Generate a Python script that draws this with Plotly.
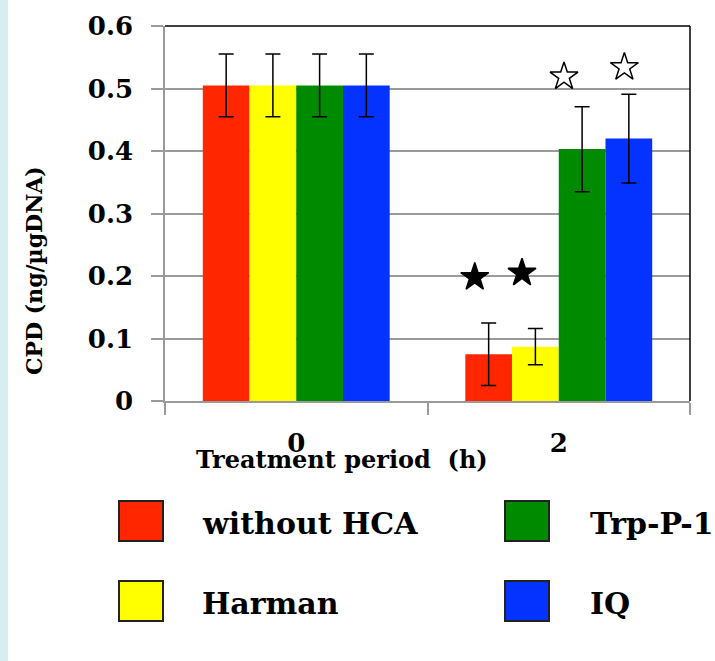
import plotly.graph_objects as go

# ---- data ----
periods = ["0", "2"]
series_names = ["without HCA", "Harman", "Trp-P-1", "IQ"]
without_hca = [0.505, 0.075]
without_hca_err = [0.05, 0.05]
harman = [0.505, 0.087]
harman_err = [0.05, 0.029]
trp_p1 = [0.505, 0.403]
trp_p1_err = [0.05, 0.068]
iq = [0.505, 0.420]
iq_err = [0.05, 0.071]
# significance stars (numeric x: category index, y: CPD)
star_x = [0.68, 0.86, 1.02, 1.25]
star_y = [0.198, 0.205, 0.519, 0.534]
star_filled = [True, True, False, False]
y_ticks = [0, 0.1, 0.2, 0.3, 0.4, 0.5, 0.6]

colors = ["#ff2600", "#ffff00", "#008a00", "#0433ff"]
values = [without_hca, harman, trp_p1, iq]
errors = [without_hca_err, harman_err, trp_p1_err, iq_err]

W, H = 715, 661
L, R, T, B = 165, 25, 26, 260
PW, PH = W - L - R, H - T - B


def px2x(px):
    return (px - L) / PW


def py2y(py):
    return (H - B - py) / PH


FONT = "DejaVu Serif"

fig = go.Figure()
for name, vals, errs, col in zip(series_names, values, errors, colors):
    fig.add_trace(go.Bar(
        x=periods, y=vals, name=name, marker=dict(color=col, line=dict(width=0)),
        error_y=dict(type="data", array=errs, visible=True, color="black",
                     thickness=1.5, width=7.5),
        showlegend=False,
    ))

fig.add_trace(go.Scatter(
    x=star_x, y=star_y, xaxis="x2", mode="markers", showlegend=False,
    marker=dict(symbol=["star" if f else "star-open" for f in star_filled],
                size=21, color="black", line=dict(color="black", width=1.5)),
))

grid_col = "#9a9a9a"
fig.update_layout(
    width=W, height=H, autosize=False,
    margin=dict(l=L, r=R, t=T, b=B, pad=0),
    paper_bgcolor="white", plot_bgcolor="white",
    barmode="group", bargap=0.288, bargroupgap=0,
    font=dict(family=FONT, color="black"),
    xaxis=dict(type="category", tickson="boundaries", ticks="outside", ticklen=12,
               tickcolor=grid_col, tickwidth=1.5, showgrid=False, showline=True,
               linecolor=grid_col, linewidth=1.5,
               tickfont=dict(family=FONT, size=26, color="black", weight="bold"),
               ticklabelstandoff=18),
    xaxis2=dict(overlaying="x", range=[-0.5, 1.5], visible=False),
    yaxis=dict(range=[0, 0.6], tickvals=y_ticks, ticks="outside", ticklen=12,
               tickcolor=grid_col, tickwidth=1.5, showgrid=True, gridcolor=grid_col,
               gridwidth=1.5, showline=True, linecolor=grid_col, linewidth=1.5,
               zeroline=False,
               tickfont=dict(family=FONT, size=26, color="black", weight="bold"),
               ticklabelstandoff=13),
)

shapes = [
    # light blue page strip on the left
    dict(type="rect", xref="paper", yref="paper", x0=px2x(0), x1=px2x(8),
         y0=py2y(H), y1=py2y(0), fillcolor="#d8ecf2", line=dict(width=0), layer="below"),
    # black top and right frame
    dict(type="line", xref="paper", yref="paper", x0=0, x1=1, y0=1, y1=1,
         line=dict(color="black", width=1.5)),
    dict(type="line", xref="paper", yref="paper", x0=1, x1=1, y0=0, y1=1,
         line=dict(color="black", width=1.5)),
]

annotations = [
    dict(text="<b>Treatment period\u00a0\u00a0(h)</b>", xref="paper", yref="paper",
         x=px2x(342), y=py2y(459), showarrow=False, xanchor="center", yanchor="middle",
         font=dict(family=FONT, size=24, color="black")),
    dict(text="<b>CPD (ng/\u00b5gDNA)</b>", xref="paper", yref="paper",
         x=px2x(34), y=py2y(271), showarrow=False, textangle=-90,
         xanchor="center", yanchor="middle",
         font=dict(family=FONT, size=22, color="black")),
]

# custom legend (2 columns x 2 rows)
col_sq_x = [119, 505]
col_txt_x = [200, 588]
row_top = [501, 581]
sq_w, sq_h = 44, 40
legend_pos = [(0, 0), (0, 1), (1, 0), (1, 1)]  # (column, row) per series
for name, col, (c, r) in zip(series_names, colors, legend_pos):
    shapes.append(dict(type="rect", xref="paper", yref="paper",
                       x0=px2x(col_sq_x[c]), x1=px2x(col_sq_x[c] + sq_w),
                       y0=py2y(row_top[r] + sq_h), y1=py2y(row_top[r]),
                       fillcolor=col, line=dict(color="#222222", width=2)))
    annotations.append(dict(text=f"<b>{name}</b>", xref="paper", yref="paper",
                            x=px2x(col_txt_x[c]), y=py2y(row_top[r] + sq_h / 2 + 2),
                            showarrow=False, xanchor="left", yanchor="middle",
                            font=dict(family=FONT, size=30, color="black")))

fig.update_layout(shapes=shapes, annotations=annotations)
fig.write_html("out.html")
